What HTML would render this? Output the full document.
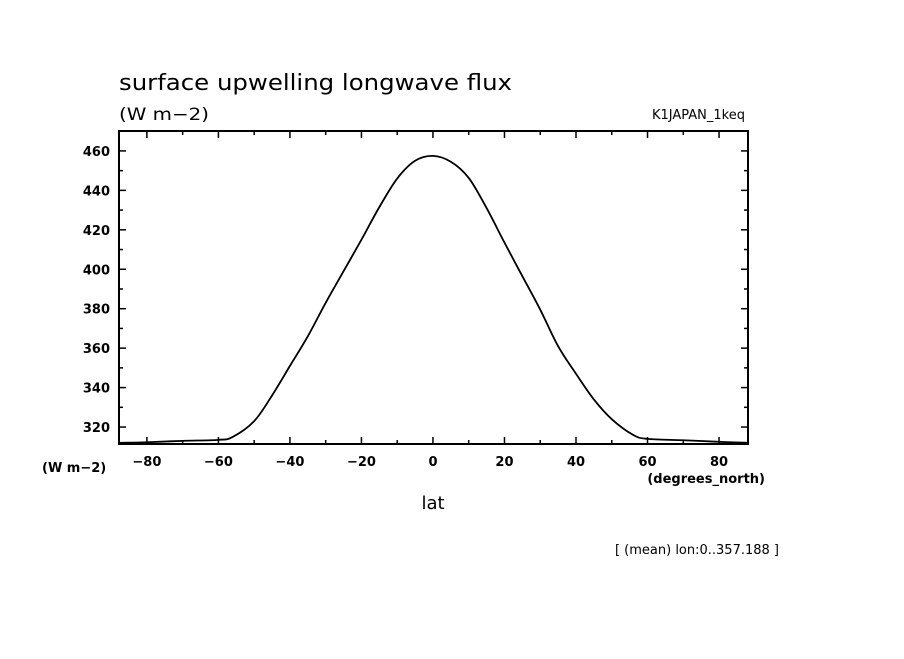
<!DOCTYPE html>
<html><head><meta charset="utf-8"><style>
body{margin:0;background:#fff;}
svg text{font-family:"DejaVu Sans","Liberation Sans",sans-serif;fill:#000;}
</style></head><body>
<svg width="904" height="654" viewBox="0 0 904 654">
<text x="119" y="90" font-size="22" textLength="393" lengthAdjust="spacingAndGlyphs">surface upwelling longwave flux</text>
<text x="119" y="120" font-size="17" textLength="90" lengthAdjust="spacingAndGlyphs">(W m−2)</text>
<text x="745" y="119" font-size="13" text-anchor="end">K1JAPAN_1keq</text>
<text x="42" y="472" font-size="13" font-weight="bold">(W m−2)</text>
<text x="765" y="483" font-size="13" font-weight="bold" text-anchor="end">(degrees_north)</text>
<text x="433" y="509" font-size="18" text-anchor="middle">lat</text>
<text x="779" y="554" font-size="13" text-anchor="end">[ (mean) lon:0..357.188 ]</text>
<g id="axes"></g>
<path id="line" fill="none" stroke="#000" stroke-width="1.8"></path>
<rect x="119" y="131" width="629" height="313" fill="none" stroke="#000" stroke-width="2"></rect>
</svg>
<script>
const lats=[-88,-80,-70,-60,-56,-50,-45,-40,-35,-30,-25,-20,-15,-10,-5,0,5,10,15,20,25,30,35,40,45,50,56,60,70,80,88];
const flux=[312,312.3,313,313.5,315,323,336,351,366,383,399,415,431.5,446,455,457.5,454.5,446.3,431,413.5,396.5,379.5,361,347,334,324,316,314,313.3,312.5,312];
const xTicks=[-80,-60,-40,-20,0,20,40,60,80];
const yTicks=[320,340,360,380,400,420,440,460];
const L=119,R=748,T=131,B=444,xmin=-87.8,xmax=88.1,ymin=311.4,ymax=470.1;
const X=v=>L+(v-xmin)/(xmax-xmin)*(R-L);
const Y=v=>B-(v-ymin)/(ymax-ymin)*(B-T);
const NS="http://www.w3.org/2000/svg";
const ax=document.getElementById('axes');
function ln(x1,y1,x2,y2,name){const e=document.createElementNS(NS,'line');e.setAttribute('x1',x1);e.setAttribute('y1',y1);e.setAttribute('x2',x2);e.setAttribute('y2',y2);e.setAttribute('stroke','#000');e.setAttribute('stroke-width','1.5');


ax.appendChild(e);}
function tx(x,y,s,anc,name){const e=document.createElementNS(NS,'text');e.setAttribute('x',x);e.setAttribute('y',y);e.setAttribute('font-size','13');e.setAttribute('font-weight','bold');e.setAttribute('text-anchor',anc);e.textContent=s;


ax.appendChild(e);}
for(let v=-80;v<=80;v+=10){const maj=v%20===0,l=maj?7:4,x=X(v);ln(x,B,x,B-l,'x-tick');ln(x,T,x,T+l,'x-tick');}
for(let v=320;v<=470;v+=10){const maj=v%20===0,l=maj?7:4,y=Y(v);ln(L,y,L+l,y,'y-tick');ln(R,y,R-l,y,'y-tick');}
xTicks.forEach(v=>tx(X(v),466,(v<0?'−':'')+Math.abs(v),'middle','x-tick-label'));
yTicks.forEach(v=>tx(110,Y(v)+5,String(v),'end','y-tick-label'));
const p=lats.map((v,i)=>[X(v),Y(flux[i])]);
let d='M'+p[0][0]+','+p[0][1];
for(let i=0;i<p.length-1;i++){const p0=p[Math.max(0,i-1)],p1=p[i],p2=p[i+1],p3=p[Math.min(p.length-1,i+2)];
d+=' C'+(p1[0]+(p2[0]-p0[0])/6)+','+(p1[1]+(p2[1]-p0[1])/6)+' '+(p2[0]-(p3[0]-p1[0])/6)+','+(p2[1]-(p3[1]-p1[1])/6)+' '+p2[0]+','+p2[1];}
document.getElementById('line').setAttribute('d',d);
</script>
</body></html>
